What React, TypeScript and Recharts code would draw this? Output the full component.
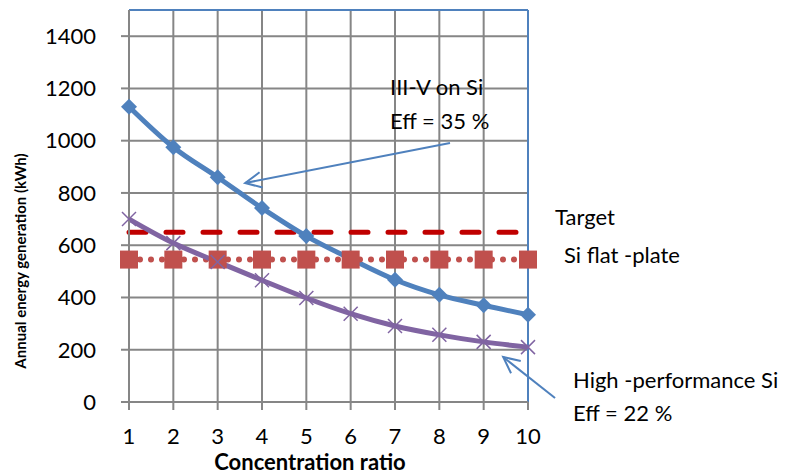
import React from "react";
import { ComposedChart, Line, XAxis, YAxis, CartesianGrid, ReferenceLine } from "recharts";

const ratios = [1, 2, 3, 4, 5, 6, 7, 8, 9, 10];
const iiivOnSi = [1130, 975, 860, 742, 635, 548, 468, 410, 370, 334];
const highPerfSi = [700, 608, 536, 466, 398, 338, 291, 257, 230, 210];
const targetLevel = [650, 650, 650, 650, 650, 650, 650, 650, 650, 650];
const siFlatPlate = [545, 545, 545, 545, 545, 545, 545, 545, 545, 545];
const yTicks = [0, 200, 400, 600, 800, 1000, 1200, 1400];

const data = ratios.map((r, i) => ({
  ratio: r,
  iiiv: iiivOnSi[i],
  highPerf: highPerfSi[i],
  target: targetLevel[i],
  flat: siFlatPlate[i],
}));

const BLUE = "#4F81BD";
const PURPLE = "#8064A2";
const GRID = "#868686";
const FONT = "Lato, 'Open Sans', sans-serif";

function Diamond({ cx, cy }: { cx?: number; cy?: number }) {
  if (cx == null || cy == null) return null;
  const s = 8;
  return <polygon points={`${cx},${cy - s} ${cx + s},${cy} ${cx},${cy + s} ${cx - s},${cy}`} fill={BLUE} />;
}

function Cross({ cx, cy }: { cx?: number; cy?: number }) {
  if (cx == null || cy == null) return null;
  const s = 7;
  return (
    <g stroke={PURPLE} strokeWidth={1.5}>
      <line x1={cx - s} y1={cy - s} x2={cx + s} y2={cy + s} />
      <line x1={cx - s} y1={cy + s} x2={cx + s} y2={cy - s} />
    </g>
  );
}

function Square({ cx, cy }: { cx?: number; cy?: number }) {
  if (cx == null || cy == null) return null;
  return <rect x={cx - 9} y={cy - 9} width={18} height={18} fill="#C0504D" />;
}

function Arrow(props: any) {
  const { x1, y1, x2, y2 } = props;
  if ([x1, y1, x2, y2].some((v) => v == null || isNaN(v))) return null;
  const ang = Math.atan2(y2 - y1, x2 - x1);
  const len = 18;
  const spread = 0.45;
  const ax = x2 - len * Math.cos(ang - spread);
  const ay = y2 - len * Math.sin(ang - spread);
  const bx = x2 - len * Math.cos(ang + spread);
  const by = y2 - len * Math.sin(ang + spread);
  return (
    <g stroke={BLUE} strokeWidth={2} fill="none">
      <line x1={x1} y1={y1} x2={x2} y2={y2} />
      <polyline points={`${ax},${ay} ${x2},${y2} ${bx},${by}`} />
    </g>
  );
}

const labelStyle: React.CSSProperties = {
  position: "absolute",
  fontFamily: FONT,
  fontSize: 22,
  color: "#000",
  whiteSpace: "nowrap",
  lineHeight: "26px",
};

export default function App() {
  return (
    <div style={{ position: "absolute", left: 0, top: 0, width: 807, height: 473, background: "#fff" }}>
      <ComposedChart width={807} height={473} data={data} margin={{ top: 10, right: 279, bottom: 0, left: 0 }}>
        <CartesianGrid stroke={GRID} strokeWidth={2} />
        <XAxis
          type="number"
          dataKey="ratio"
          domain={[1, 10]}
          ticks={ratios}
          height={71}
          stroke={GRID}
          strokeWidth={2}
          tickSize={8}
          tickMargin={18}
          tick={{ fill: "#000", fontSize: 22, fontFamily: FONT }}
        />
        <YAxis
          type="number"
          domain={[0, 1500]}
          ticks={yTicks}
          width={129}
          stroke={GRID}
          strokeWidth={2}
          tickSize={8}
          tickMargin={25}
          tick={{ fill: "#000", fontSize: 22, fontFamily: FONT }}
        />
        <ReferenceLine y={1500} stroke={BLUE} strokeWidth={2} />
        <ReferenceLine x={10} stroke={BLUE} strokeWidth={2} />
        <Line
          dataKey="target"
          stroke="#C00000"
          strokeWidth={5}
          strokeDasharray="17 20"
          strokeLinecap="round"
          dot={false}
          activeDot={false}
          isAnimationActive={false}
        />
        <Line
          type="monotone"
          dataKey="iiiv"
          stroke={BLUE}
          strokeWidth={5}
          dot={<Diamond />}
          activeDot={false}
          isAnimationActive={false}
        />
        <Line
          dataKey="flat"
          stroke="#C0504D"
          strokeWidth={6}
          strokeDasharray="0 11"
          strokeLinecap="round"
          dot={<Square />}
          activeDot={false}
          isAnimationActive={false}
        />
        <Line
          type="monotone"
          dataKey="highPerf"
          stroke={PURPLE}
          strokeWidth={5}
          dot={<Cross />}
          activeDot={false}
          isAnimationActive={false}
        />
        <ReferenceLine
          segment={[
            { x: 8.24, y: 991 },
            { x: 3.62, y: 838 },
          ]}
          ifOverflow="visible"
          shape={<Arrow />}
        />
        <ReferenceLine
          segment={[
            { x: 10.61, y: 15 },
            { x: 9.44, y: 172 },
          ]}
          ifOverflow="visible"
          shape={<Arrow />}
        />
      </ComposedChart>

      <div
        style={{
          position: "absolute",
          left: 20,
          top: 261,
          transform: "translate(-50%, -50%) rotate(-90deg)",
          fontFamily: FONT,
          fontWeight: 700,
          fontSize: 15,
          whiteSpace: "nowrap",
        }}
      >
        Annual energy generation (kWh)
      </div>
      <div
        style={{
          position: "absolute",
          left: 310,
          top: 461,
          transform: "translate(-50%, -50%)",
          fontFamily: FONT,
          fontWeight: 700,
          fontSize: 22,
          whiteSpace: "nowrap",
        }}
      >
        Concentration ratio
      </div>

      <div style={{ ...labelStyle, left: 390, top: 74 }}>III-V on Si</div>
      <div style={{ ...labelStyle, left: 390, top: 108 }}>Eff = 35 %</div>
      <div style={{ ...labelStyle, left: 555, top: 204 }}>Target</div>
      <div style={{ ...labelStyle, left: 564, top: 242 }}>Si flat -plate</div>
      <div style={{ ...labelStyle, left: 573, top: 367 }}>High -performance Si</div>
      <div style={{ ...labelStyle, left: 573, top: 400 }}>Eff = 22 %</div>
    </div>
  );
}
